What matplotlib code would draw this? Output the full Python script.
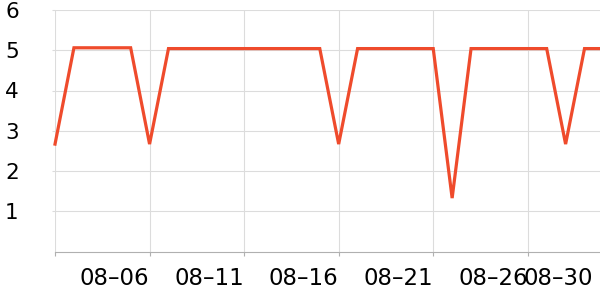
import pandas as pd
import matplotlib
matplotlib.use('Agg')
import matplotlib.pyplot as plt
import matplotlib.transforms as mtransforms

# Data
dates = pd.date_range('2023-08-01', '2023-08-30', freq='D')
values = [2.67, 5.06, 5.06, 5.06, 5.06, 2.67, 5.04, 5.04, 5.04, 5.04,
          5.04, 5.04, 5.04, 5.04, 5.04, 2.67, 5.04, 5.04, 5.04, 5.04,
          5.04, 1.33, 5.04, 5.04, 5.04, 5.04, 5.04, 2.67, 5.04, 5.04]
tick_dates = pd.to_datetime(['2023-08-01', '2023-08-06', '2023-08-11', '2023-08-16',
                             '2023-08-21', '2023-08-26', '2023-08-30'])
tick_labels = ['', '08\u201306', '08\u201311', '08\u201316', '08\u201321', '08\u201326', '08\u201330']
y_ticks = [1, 2, 3, 4, 5, 6]

fig = plt.figure(figsize=(6, 3), dpi=100)
ax = fig.add_axes([0.0917, 0.161, 0.914, 0.806])

ax.plot(dates, values, color='#ef4b2c', linewidth=2.3, solid_joinstyle='miter', clip_on=False)

ax.set_xlim(dates[0], dates[-1])
ax.set_ylim(0, 6)

ax.set_xticks(tick_dates)
ax.set_xticklabels(tick_labels, ha='right', fontsize=16.5)
ax.set_yticks(y_ticks)
ax.set_yticklabels([str(v) for v in y_ticks], fontsize=15.5)

# only grid lines at 5-day steps (not at the last label)
for d in tick_dates[:-1]:
    ax.axvline(d, color='#dcdcdc', linewidth=0.8, zorder=0)
ax.yaxis.grid(True, color='#dcdcdc', linewidth=0.8)
ax.set_axisbelow(True)

for s in ['top', 'right', 'left']:
    ax.spines[s].set_visible(False)
ax.spines['bottom'].set_color('#b0b0b0')
ax.spines['bottom'].set_linewidth(0.8)

ax.tick_params(axis='x', length=3, width=0.8, color='#b0b0b0', pad=8, labelcolor='black')
ax.tick_params(axis='y', length=2, width=0.8, color='#dcdcdc', pad=34, labelcolor='black')
for lbl in ax.get_yticklabels():
    lbl.set_horizontalalignment('left')

# keep the last date label inside the figure
xlbls = ax.get_xticklabels()
shift = mtransforms.ScaledTranslation(-10 / 100, 0, fig.dpi_scale_trans)
xlbls[-1].set_transform(xlbls[-1].get_transform() + shift)
ax.get_xticklines()[-2].set_visible(False)

fig.savefig('out.png', dpi=100)
